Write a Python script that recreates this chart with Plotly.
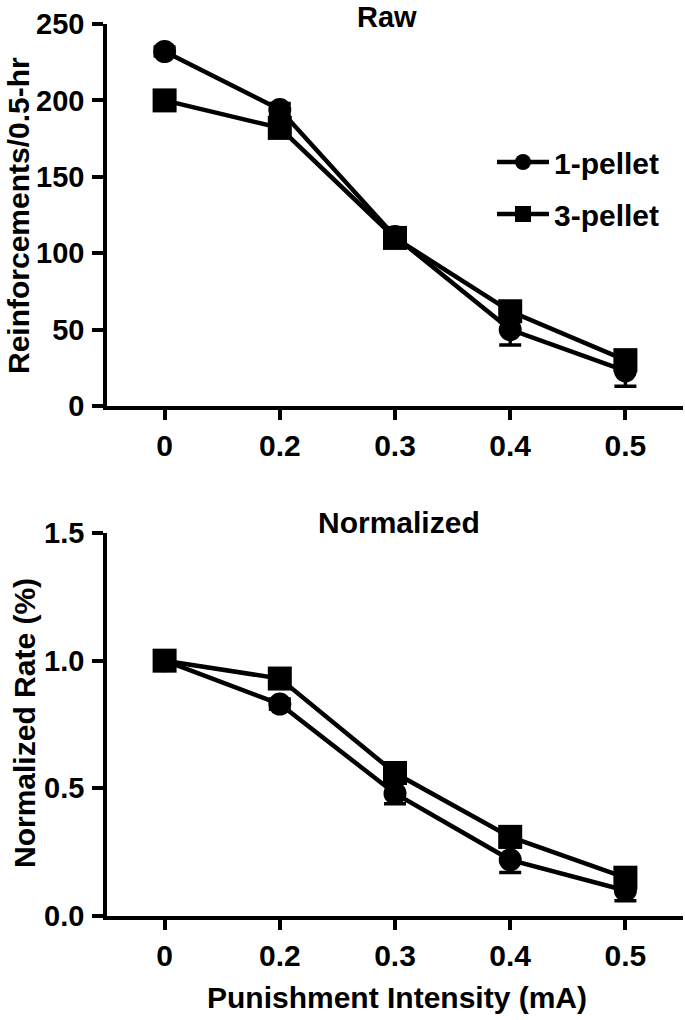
import plotly.graph_objects as go

W, H = 685, 1020

intensity = ["0", "0.2", "0.3", "0.4", "0.5"]
raw_1pellet = [232, 194, 111, 50, 23]
raw_1pellet_err = [3, 4, 4, 10, 10]
raw_3pellet = [200, 182, 110, 62, 30]
raw_3pellet_err = [4, 5, 4, 5, 5]
norm_1pellet = [1.0, 0.83, 0.48, 0.22, 0.10]
norm_1pellet_err = [0.0, 0.02, 0.04, 0.05, 0.04]
norm_3pellet = [1.0, 0.93, 0.56, 0.31, 0.15]
norm_3pellet_err = [0.0, 0.02, 0.03, 0.03, 0.03]

FONT = "Liberation Sans"
BLACK = "#000000"


def px(x):
    return x / W


def py(y):
    return 1 - y / H


def trace(xv, yv, err, name, symbol, size, xa, ya, show):
    return go.Scatter(
        x=xv, y=yv, name=name, mode="lines+markers",
        line=dict(color=BLACK, width=4.5),
        marker=dict(symbol=symbol, size=size, color=BLACK),
        error_y=dict(type="data", array=err, visible=True, color=BLACK,
                     thickness=3.5, width=11),
        xaxis=xa, yaxis=ya, showlegend=show, legendgroup=name,
    )


fig = go.Figure()
fig.add_trace(trace(intensity, raw_1pellet, raw_1pellet_err, "1-pellet", "circle", 23, "x", "y", True))
fig.add_trace(trace(intensity, raw_3pellet, raw_3pellet_err, "3-pellet", "square", 24, "x", "y", True))
fig.add_trace(trace(intensity, norm_1pellet, norm_1pellet_err, "1-pellet", "circle", 23, "x2", "y2", False))
fig.add_trace(trace(intensity, norm_3pellet, norm_3pellet_err, "3-pellet", "square", 24, "x2", "y2", False))

tickfont = dict(family=FONT, size=29, color=BLACK, weight="bold")
xcommon = dict(
    type="category", range=[-0.5, 4.5], showline=True, linecolor=BLACK, linewidth=3.5,
    ticks="outside", ticklen=10, tickwidth=3.5, tickcolor=BLACK, showgrid=False,
    zeroline=False, tickfont=dict(family=FONT, size=30, color=BLACK, weight="bold"),
    domain=[px(107), px(683)], automargin=False,
)
ycommon = dict(
    showline=True, linecolor=BLACK, linewidth=3.5, ticks="outside", ticklen=11,
    tickwidth=3.5, tickcolor=BLACK, showgrid=False, zeroline=False, tickfont=tickfont,
    automargin=False, ticklabelstandoff=2,
)

fig.update_layout(
    width=W, height=H, margin=dict(l=0, r=0, t=0, b=0, autoexpand=False),
    paper_bgcolor="white", plot_bgcolor="white",
    font=dict(family=FONT, color=BLACK),
    xaxis=dict(**xcommon, anchor="y"),
    yaxis=dict(**ycommon, range=[0, 250], tickvals=[0, 50, 100, 150, 200, 250],
               domain=[py(406), py(24)], anchor="x"),
    xaxis2=dict(**xcommon, anchor="y2"),
    yaxis2=dict(**ycommon, range=[0, 1.5], tickvals=[0, 0.5, 1.0, 1.5], tickformat=".1f",
                domain=[py(916), py(533)], anchor="x2"),
    legend=dict(x=px(492), y=py(136), xanchor="left", yanchor="top",
                font=dict(family=FONT, size=30, color=BLACK, weight="bold"),
                bgcolor="rgba(0,0,0,0)", tracegroupgap=10, traceorder="grouped",
                itemwidth=52),
    showlegend=True,
)

ann_font = dict(family=FONT, size=30, color=BLACK, weight="bold")
fig.add_annotation(text="Raw", x=px(387), y=py(17), xref="paper", yref="paper",
                   showarrow=False, font=dict(family=FONT, size=29, color=BLACK, weight="bold"),
                   xanchor="center", yanchor="middle")
fig.add_annotation(text="Normalized", x=px(399), y=py(522), xref="paper", yref="paper",
                   showarrow=False, font=ann_font, xanchor="center", yanchor="middle")
fig.add_annotation(text="Reinforcements/0.5-hr", x=px(18), y=py(216), xref="paper", yref="paper",
                   showarrow=False, font=ann_font,
                   textangle=-90, xanchor="center", yanchor="middle")
fig.add_annotation(text="Normalized Rate (%)", x=px(24), y=py(723), xref="paper", yref="paper",
                   showarrow=False, font=ann_font, textangle=-90,
                   xanchor="center", yanchor="middle")
fig.add_annotation(text="Punishment Intensity (mA)", x=px(397), y=py(997), xref="paper", yref="paper",
                   showarrow=False, font=ann_font, xanchor="center", yanchor="middle")

fig.write_html(
    "out.html",
    config={"displayModeBar": False},
    post_script="document.body.style.margin='0';document.body.style.overflow='hidden';",
)
